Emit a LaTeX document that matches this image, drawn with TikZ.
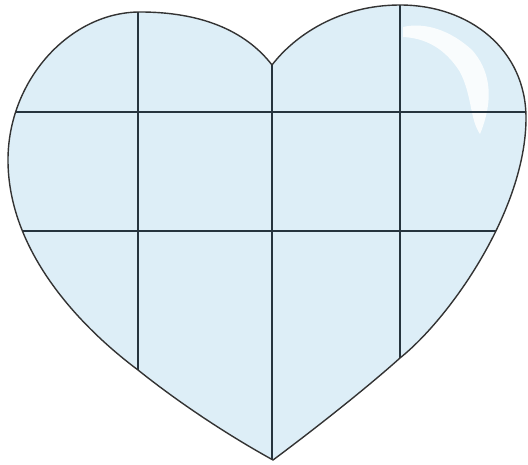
\documentclass[tikz,border=0pt]{standalone}
\usepackage{tikz}

\definecolor{heartfill}{RGB}{221,238,247}
\definecolor{gridline}{RGB}{38,52,62}
\tikzset{
  rim/.style={draw=black!80, line width=1.4pt},
  gridrule/.style={draw=gridline, line width=1.8pt},
}

\begin{document}
\begin{tikzpicture}[x=1pt, y=-1pt]
  \useasboundingbox (0,0) rectangle (528,465);

  % --- key points of the outline (pixel grid, y down) ---
  \coordinate (dip)   at (272,65);
  \coordinate (ltop)  at (140,12);
  \coordinate (lside) at (8,160);
  \coordinate (lcut)  at (138,370);
  \coordinate (tip)   at (273,460);
  \coordinate (rcut)  at (400,358);
  \coordinate (rside) at (526,118);
  \coordinate (rtop)  at (400,5);

  \def\heartpath{(dip) .. controls (245,30) and (200,12) .. (ltop)
    .. controls (70,12) and (8,80) .. (lside)
    .. controls (8,250) and (78,325) .. (lcut)
    .. controls (183,406) and (233,438) .. (tip)
    .. controls (320,425) and (370,385) .. (rcut)
    .. controls (450,318) and (526,210) .. (rside)
    .. controls (526,50) and (470,5) .. (rtop)
    .. controls (340,5) and (295,35) .. (dip) -- cycle}

  % fill
  \fill[heartfill] \heartpath;

  % shine in the right lobe
  \fill[white, opacity=0.85] (403,27) .. controls (425,22) and (450,30) .. (472,50)
    .. controls (488,68) and (496,95) .. (480,134)
    .. controls (470,120) and (472,95) .. (460,72)
    .. controls (445,48) and (425,38) .. (403,37) -- cycle;

  % --- grid, cut to the heart ---
  \begin{scope}
    \clip \heartpath;
    \foreach \gx in {138,272,400}
      \draw[gridrule] (\gx,0) -- (\gx,465);
    \foreach \gy in {112,231}
      \draw[gridrule] (0,\gy) -- (528,\gy);
  \end{scope}

  % outline
  \draw[rim, line join=round] \heartpath;

\end{tikzpicture}
\end{document}
